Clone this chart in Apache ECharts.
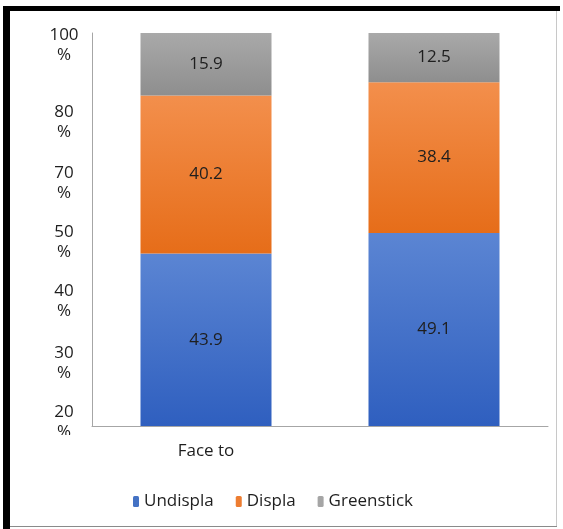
<!doctype html>
<html>
    <head>
        <meta charset="utf-8">
        <style>
            html, body { margin: 0; padding: 0; background: #fff; }
            #main { width: 563px; height: 529px; }
        </style>
    </head>
    <body>
        <div id="main"></div>
        <script src="https://cdn.jsdelivr.net/npm/echarts@6/dist/echarts.min.js"></script>
        <script>
            var categories = ['Face to', ''];
            var undispla = [43.9, 49.1];
            var displa = [40.2, 38.4];
            var greenstick = [15.9, 12.5];

            // tick labels as they appear on the (squeezed) source axis
            var yLabels = ['100\n%', '80\n%', '70\n%', '50\n%', '40\n%', '30\n%', '20\n%'];
            var yLabelAt = [97, 77.4, 61.8, 46.8, 31.8, 16, 1];

            var font = "'Open Sans', sans-serif";
            var ink = '#1e1e1e';

            function grad(top, bottom) {
                return new echarts.graphic.LinearGradient(0, 0, 0, 1, [
                    { offset: 0, color: top },
                    { offset: 1, color: bottom }
                ]);
            }

            var chart = echarts.init(document.getElementById('main'));

            function bar(name, data, top, bottom) {
                return {
                    name: name,
                    type: 'bar',
                    stack: 'total',
                    barWidth: 131,
                    data: data,
                    itemStyle: { color: grad(top, bottom) },
                    label: {
                        show: true,
                        position: 'inside',
                        color: ink,
                        fontFamily: font,
                        fontSize: 17
                    }
                };
            }

            chart.setOption({
                backgroundColor: '#fff',
                animation: false,
                grid: { left: 92, right: 15, top: 33, bottom: 103 },
                xAxis: {
                    type: 'category',
                    data: categories,
                    axisLine: { lineStyle: { color: '#a6a6a6' } },
                    axisTick: { show: false },
                    axisLabel: {
                        margin: 17,
                        color: ink,
                        fontFamily: font,
                        fontSize: 17
                    }
                },
                yAxis: {
                    type: 'value',
                    min: 0,
                    max: 100,
                    splitLine: { show: false },
                    axisTick: { show: false },
                    axisLine: { show: true, lineStyle: { color: '#a6a6a6' } },
                    axisLabel: {
                        customValues: yLabelAt,
                        formatter: function (v) {
                            var i = yLabelAt.indexOf(v);
                            return i < 0 ? '' : yLabels[i];
                        },
                        align: 'center',
                        margin: 28,
                        lineHeight: 20,
                        color: ink,
                        fontFamily: font,
                        fontSize: 17
                    }
                },
                legend: {
                    left: 128,
                    top: 488,
                    itemWidth: 6,
                    itemHeight: 11,
                    itemGap: 22,
                    textStyle: { color: ink, fontFamily: font, fontSize: 17 },
                    data: [
                        { name: 'Undispla', itemStyle: { color: '#4472c4' } },
                        { name: 'Displa', itemStyle: { color: '#ed7d31' } },
                        { name: 'Greenstick', itemStyle: { color: '#a5a5a5' } }
                    ]
                },
                graphic: [
                    // the source image cuts off the lowest tick label
                    { type: 'rect', z: 100, shape: { x: 30, y: 435, width: 60, height: 14 }, style: { fill: '#fff' } },
                    { type: 'rect', shape: { x: 3, y: 6, width: 7, height: 523 }, style: { fill: '#000' } },
                    { type: 'rect', shape: { x: 3, y: 6, width: 557, height: 5 }, style: { fill: '#000' } },
                    { type: 'rect', shape: { x: 556, y: 11, width: 1, height: 516 }, style: { fill: '#c8c8c8' } },
                    { type: 'rect', shape: { x: 10, y: 526, width: 547, height: 1 }, style: { fill: '#8a8a8a' } }
                ],
                series: [
                    bar('Undispla', undispla, '#5b85d3', '#2f5fbf'),
                    bar('Displa', displa, '#f38f4c', '#e66d19'),
                    bar('Greenstick', greenstick, '#a9a9a9', '#8e8e8e')
                ]
            });

            window.addEventListener('resize', function () {
                chart.resize();
            });
        </script>
    </body>
</html>
